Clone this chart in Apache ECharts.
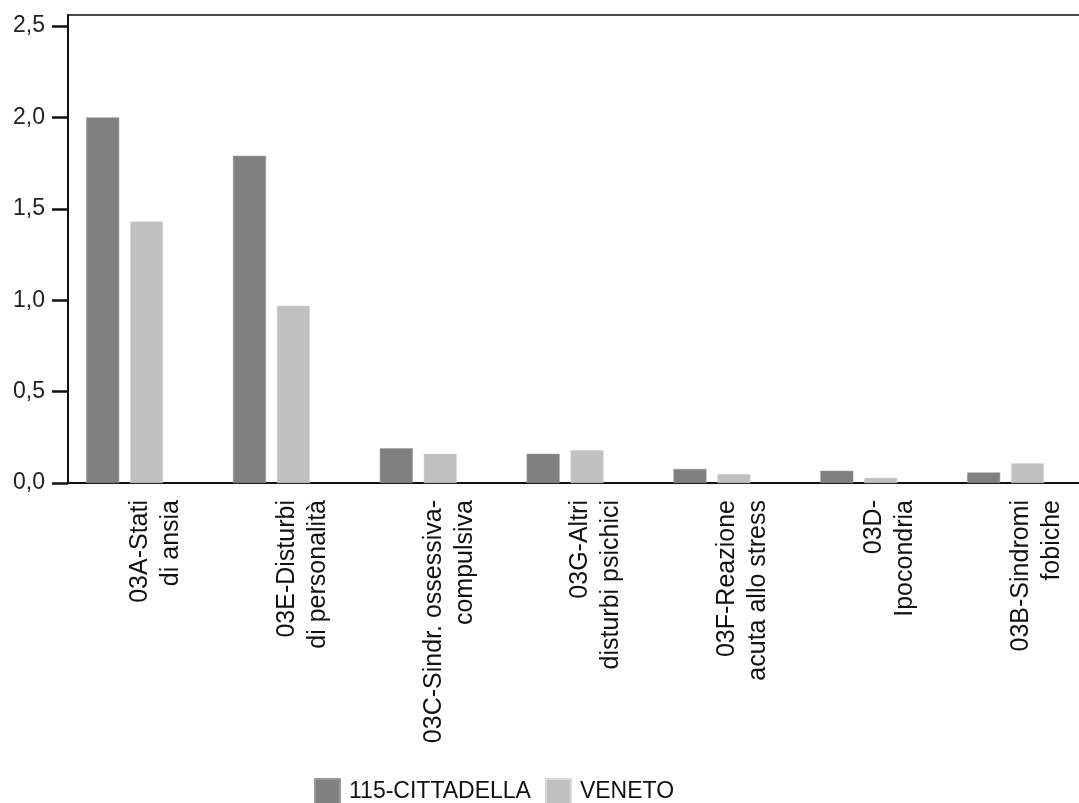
<!DOCTYPE html>
<html>
<head>
<meta charset="utf-8">
<script src="https://cdn.jsdelivr.net/npm/echarts@6/dist/echarts.min.js"></script>
<style>
html,body{margin:0;padding:0;background:#fff;}
#chart{width:1079px;height:803px;}
</style>
</head>
<body>
<div id="chart"></div>
<script>
var categories = [
  '03A-Stati\ndi ansia',
  '03E-Disturbi\ndi personalità',
  '03C-Sindr. ossessiva-\ncompulsiva',
  '03G-Altri\ndisturbi psichici',
  '03F-Reazione\nacuta allo stress',
  '03D-\nIpocondria',
  '03B-Sindromi\nfobiche'
];
var seriesNames = ['115-CITTADELLA', 'VENETO'];
var cittadella = [2.00, 1.79, 0.19, 0.16, 0.077, 0.067, 0.058];
var veneto = [1.43, 0.97, 0.16, 0.18, 0.049, 0.029, 0.108];
var yTicks = [0, 0.5, 1.0, 1.5, 2.0, 2.5];

var FONT = "'Liberation Sans', Arial, sans-serif";
var chart = echarts.init(document.getElementById('chart'), null, {renderer: 'canvas'});
var yMax = 2.56;

chart.setOption({
  animation: false,
  backgroundColor: '#ffffff',
  textStyle: {fontFamily: FONT},
  legend: {
    left: 314, top: 778, padding: 0,
    itemWidth: 25, itemHeight: 25, itemGap: 14,
    icon: 'rect',
    data: seriesNames,
    textStyle: {fontFamily: FONT, fontSize: 23, color: '#111', padding: [0, 0, 0, 4]}
  },
  grid: [
    {left: 68, top: 15, bottom: 320, right: -40, containLabel: false},
    {left: 51.2, top: 15, bottom: 320, right: -20, containLabel: false}
  ],
  xAxis: [
    {
      gridIndex: 0, type: 'value', min: 0, max: 1, position: 'bottom',
      axisLine: {show: true, lineStyle: {color: '#111', width: 2}},
      axisTick: {show: false}, axisLabel: {show: false}, splitLine: {show: false}
    },
    {
      gridIndex: 0, type: 'value', min: 0, max: 1, position: 'top',
      axisLine: {show: true, lineStyle: {color: '#111', width: 1.5}},
      axisTick: {show: false}, axisLabel: {show: false}, splitLine: {show: false}
    },
    {
      gridIndex: 1, type: 'category', data: categories, position: 'bottom',
      axisLine: {show: false}, axisTick: {show: false}, splitLine: {show: false},
      axisLabel: {
        interval: 0, rotate: 90, margin: 17,
        fontFamily: FONT, fontSize: 25, lineHeight: 31, color: '#111',
        formatter: function (v) {
          return '{p| }\n{t|' + v.split('\n').join('}\n{t|') + '}';
        },
        rich: {
          p: {height: 62, lineHeight: 62, fontSize: 25},
          t: {fontFamily: FONT, fontSize: 25, lineHeight: 31, color: '#111'}
        }
      }
    }
  ],
  yAxis: [
    {
      gridIndex: 0, type: 'value', min: 0, max: yMax,
      axisLine: {show: true, lineStyle: {color: '#111', width: 2}},
      axisTick: {show: true, length: 16, customValues: yTicks, lineStyle: {color: '#111', width: 2.5}},
      axisLabel: {
        customValues: yTicks, margin: 23,
        fontFamily: FONT, fontSize: 23, color: '#222',
        formatter: function (v) { return v.toFixed(1).replace('.', ','); }
      },
      splitLine: {show: false}
    },
    {
      gridIndex: 1, type: 'value', min: 0, max: yMax, show: false
    }
  ],
  series: [
    {
      name: seriesNames[0], type: 'bar', xAxisIndex: 2, yAxisIndex: 1,
      data: cittadella, barWidth: 33, barGap: '33%',
      itemStyle: {color: '#808080', borderColor: '#9a9a9a', borderWidth: 0.5}
    },
    {
      name: seriesNames[1], type: 'bar', xAxisIndex: 2, yAxisIndex: 1,
      data: veneto, barWidth: 33, barGap: '33%',
      itemStyle: {color: '#c0c0c0', borderColor: '#d8d8d8', borderWidth: 0.5}
    }
  ]
});
</script>
</body>
</html>
